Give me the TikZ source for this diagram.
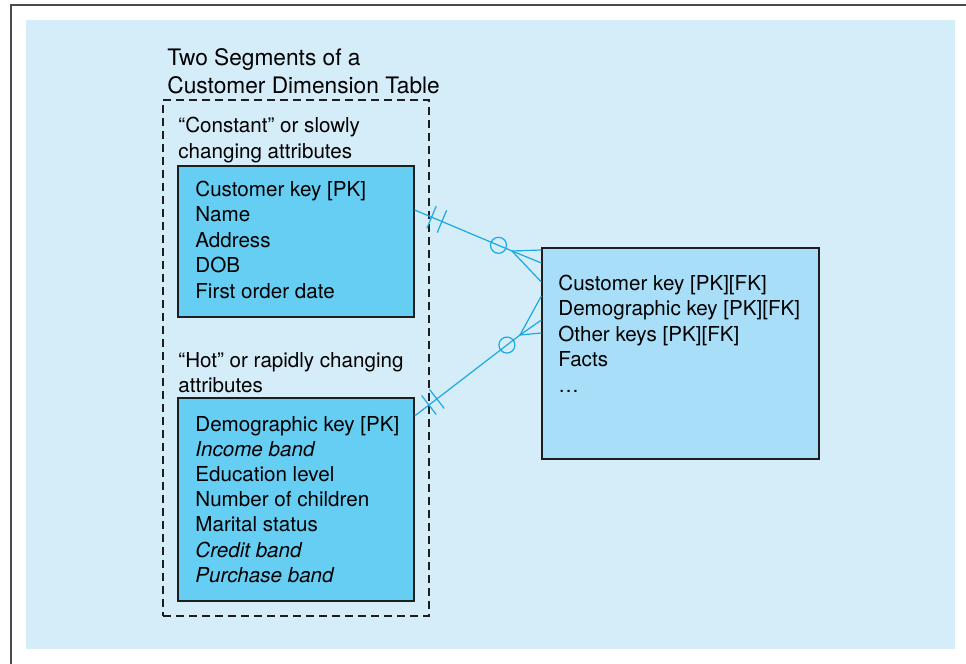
\documentclass[tikz,border=0pt]{standalone}
\usepackage{fontspec}
\setmainfont{TeX Gyre Heros}
\usetikzlibrary{calc}
\definecolor{panelblue}{HTML}{D5ECF9}
\definecolor{dimblue}{HTML}{66CDF3}
\definecolor{factblue}{HTML}{A8DEF8}
\definecolor{linkcyan}{HTML}{1BA9E1}
\definecolor{framegray}{HTML}{4A4A4A}
\definecolor{inkgray}{HTML}{1E1E1E}
\tikzset{
	tablebox/.style={draw=inkgray, line width=0.65pt, inner sep=0pt},
	rowtext/.style={anchor=base west, inner sep=0pt, font=\fontsize{10.3}{12.8}\selectfont},
	titletext/.style={anchor=base west, inner sep=0pt, font=\fontsize{11.35}{14}\selectfont},
	link/.style={draw=linkcyan, line width=0.6pt},
}
% one "one and only one" bar across a relationship line
\newcommand{\onebar}[3]{%
	\draw[link] ($(#1)!#3!(#2)!6pt!90:(#2)$) -- ($(#1)!#3!(#2)!6pt!-90:(#2)$);
}

\begin{document}
\begin{tikzpicture}[x=0.5pt,y=-0.5pt]
	% Fixed canvas, light panel and the clipped outer frame.
	\path[use as bounding box] (0,0) rectangle (966,664);
	\fill[white] (0,0) rectangle (966,664);
	\fill[panelblue] (26,20) rectangle (955,649);
	\draw[framegray, line width=1pt] (11,664) -- (11,5) -- (966,5);

	% Dimension table, split in two segments.
	\node[titletext] (title1) at (167,65) {Two Segments of a};
	\node[titletext] (title2) at (167,93) {Customer Dimension Table};
	\node[draw=inkgray, line width=0.6pt, dash pattern=on 4pt off 2.5pt,
		minimum width=133pt, minimum height=258pt, inner sep=0pt] (segments) at (296,358) {};

	\node[rowtext] (constlab1) at (178,133) {“Constant” or slowly};
	\node[rowtext] (constlab2) at (178,158) {changing attributes};
	\node[tablebox, fill=dimblue, minimum width=118pt, minimum height=75.5pt] (constbox) at (296,241.5) {};
	\foreach \i/\row in {0/Customer key [PK],1/Name,2/Address,3/DOB,4/First order date} {
		\node[rowtext] (constrow\i) at (195,{196+25.5*\i}) {\row};
	}

	\node[rowtext] (hotlab1) at (178,367) {“Hot” or rapidly changing};
	\node[rowtext] (hotlab2) at (178,392) {attributes};
	\node[tablebox, fill=dimblue, minimum width=118pt, minimum height=101.5pt] (hotbox) at (296,499.5) {};
	\foreach \i/\row in {0/Demographic key [PK],1/\textit{Income band},2/Education level,
		3/Number of children,4/Marital status,5/\textit{Credit band},6/\textit{Purchase band}} {
		\node[rowtext] (hotrow\i) at (195,{431+25.2*\i}) {\row};
	}

	% Fact table.
	\node[tablebox, fill=factblue, minimum width=138.5pt, minimum height=105.5pt] (factbox) at (680.5,353.5) {};
	\foreach \i/\row in {0/Customer key [PK][FK],1/Demographic key [PK][FK],2/Other keys [PK][FK],3/Facts,4/…} {
		\node[rowtext] (factrow\i) at (558,{290+25.5*\i}) {\row};
	}

	% Relationship: constant segment to fact table.
	\coordinate (conststart) at ([yshift=15.75pt]constbox.east);
	\coordinate (constfoot) at (512,251);
	\draw[link] (conststart) -- (constfoot);
	\foreach \s in {51.75,45.25,35.75} {
		\draw[link] (constfoot) -- ([yshift=\s pt]factbox.west);
	}
	\onebar{conststart}{constfoot}{9.2pt}
	\onebar{conststart}{constfoot}{14.8pt}
	\node[link, circle, minimum size=8pt, inner sep=0pt] (constzero) at ($(conststart)!45.5pt!(constfoot)$) {};

	% Relationship: hot segment to fact table.
	\coordinate (hotstart) at ([yshift=41.75pt]hotbox.east);
	\coordinate (hotfoot) at (520,335);
	\draw[link] (hotstart) -- (hotfoot);
	\foreach \s in {28.75,16.75,10.25} {
		\draw[link] (hotfoot) -- ([yshift=\s pt]factbox.west);
	}
	\onebar{hotstart}{hotfoot}{9pt}
	\onebar{hotstart}{hotfoot}{14pt}
	\node[link, circle, minimum size=8pt, inner sep=0pt] (hotzero) at ($(hotstart)!58.2pt!(hotfoot)$) {};
\end{tikzpicture}
\end{document}
